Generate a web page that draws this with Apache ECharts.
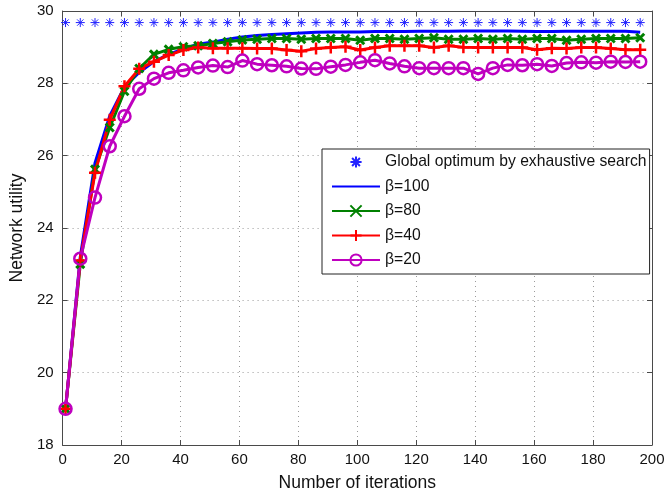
<!DOCTYPE html>
<html lang="en">
<head>
<meta charset="UTF-8">
<title>Network utility vs iterations</title>
<script src="https://cdn.jsdelivr.net/npm/echarts@6/dist/echarts.min.js"></script>
<style>
  html, body { margin: 0; padding: 0; background: #fff; }
  #chart { width: 668px; height: 497px; }
</style>
</head>
<body>
<div id="chart"></div>
<script>
// iterations where the curves are sampled
var iterations = [1, 6, 11, 16, 21, 26, 31, 36, 41, 46, 51, 56, 61, 66, 71, 76, 81, 86, 91, 96,
                  101, 106, 111, 116, 121, 126, 131, 136, 141, 146, 151, 156, 161, 166, 171, 176, 181, 186, 191, 196];

var globalOpt = 29.68;

var beta100 = [19.0, 23.2, 25.8, 27.1, 27.9, 28.3, 28.6, 28.8, 28.95, 29.08, 29.14, 29.22, 29.28, 29.32, 29.35, 29.37, 29.39, 29.41, 29.42, 29.42,
               29.42, 29.43, 29.43, 29.43, 29.44, 29.44, 29.44, 29.45, 29.45, 29.45, 29.45, 29.44, 29.43, 29.43, 29.44, 29.44, 29.44, 29.44, 29.44, 29.41];

var beta80 = [19.0, 23.0, 25.62, 26.78, 27.78, 28.41, 28.8, 28.94, 29.01, 29.04, 29.1, 29.15, 29.2, 29.22, 29.24, 29.24, 29.22, 29.24, 29.24, 29.24,
              29.19, 29.24, 29.24, 29.22, 29.24, 29.26, 29.22, 29.22, 29.24, 29.22, 29.24, 29.22, 29.24, 29.24, 29.19, 29.22, 29.24, 29.24, 29.24, 29.26];

var beta40 = [19.0, 23.1, 25.53, 26.99, 27.92, 28.4, 28.6, 28.78, 28.92, 28.99, 28.97, 28.97, 28.97, 28.96, 28.96, 28.92, 28.89, 28.96, 28.99, 29.01,
              28.92, 28.99, 29.04, 29.04, 29.04, 28.99, 29.04, 29.0, 28.99, 28.99, 28.99, 28.99, 28.93, 28.97, 28.96, 28.99, 28.99, 28.96, 28.93, 28.93];

var beta20 = [19.0, 23.15, 24.84, 26.26, 27.09, 27.85, 28.13, 28.29, 28.36, 28.44, 28.49, 28.45, 28.63, 28.53, 28.5, 28.47, 28.41, 28.4, 28.46, 28.51,
              28.58, 28.64, 28.55, 28.47, 28.42, 28.42, 28.42, 28.42, 28.26, 28.42, 28.51, 28.5, 28.53, 28.48, 28.56, 28.58, 28.57, 28.6, 28.59, 28.6];

var xTicks = { min: 0, max: 200, step: 20 };
var yTicks = { min: 18, max: 30, step: 2 };

function pairs(vals) {
  return iterations.map(function (x, i) { return [x, vals[i]]; });
}

var starPath = 'path://M5,0L5,10M0,5L10,5M1.5,1.5L8.5,8.5M8.5,1.5L1.5,8.5';
var plusPath = 'path://M5,0L5,10M0,5L10,5';
var crossPath = 'path://M0,0L10,10M10,0L0,10';

var font = 'Liberation Sans, Arial, sans-serif';
var axisGray = '#4a4a4a';

function baseXAxis(pos, showLabels) {
  return {
    type: 'value', position: pos,
    min: xTicks.min, max: xTicks.max, interval: xTicks.step,
    axisLine: { show: true, onZero: false, lineStyle: { color: axisGray, width: 1 } },
    axisTick: { show: true, inside: true, length: 5, lineStyle: { color: axisGray } },
    axisLabel: { show: showLabels, color: '#111', fontSize: 15, fontFamily: font, margin: 7 },
    splitLine: { show: showLabels, lineStyle: { color: '#9a9a9a', type: [1, 4], width: 1 } }
  };
}
function baseYAxis(pos, showLabels) {
  return {
    type: 'value', position: pos,
    min: yTicks.min, max: yTicks.max, interval: yTicks.step,
    axisLine: { show: true, onZero: false, lineStyle: { color: axisGray, width: 1 } },
    axisTick: { show: true, inside: true, length: 5, lineStyle: { color: axisGray } },
    axisLabel: { show: showLabels, color: '#111', fontSize: 15, fontFamily: font, margin: 9 },
    splitLine: { show: showLabels, lineStyle: { color: '#9a9a9a', type: [1, 4], width: 1 } }
  };
}

var xBottom = baseXAxis('bottom', true);
xBottom.name = 'Number of iterations';
xBottom.nameLocation = 'middle';
xBottom.nameGap = 29;
xBottom.nameTextStyle = { color: '#111', fontSize: 17.5, fontFamily: font };

var yLeft = baseYAxis('left', true);
yLeft.name = 'Network utility';
yLeft.nameLocation = 'middle';
yLeft.nameGap = 33;
yLeft.nameTextStyle = { color: '#111', fontSize: 17.5, fontFamily: font };

var option = {
  backgroundColor: '#fff',
  animation: false,
  grid: { left: 61, right: 16, top: 11, bottom: 50 },
  xAxis: [xBottom, baseXAxis('top', false)],
  yAxis: [yLeft, baseYAxis('right', false)],
  legend: {
    orient: 'vertical', left: 322, top: 149,
    backgroundColor: '#fff', borderColor: '#222', borderWidth: 1,
    padding: [5, 3, 6, 9],
    itemWidth: 48, itemHeight: 14, itemGap: 8.5,
    textStyle: { color: '#111', fontSize: 15.7, fontFamily: font },
    data: [
      { name: 'Global optimum by exhaustive search' },
      { name: 'β=100', itemStyle: { opacity: 0 } },
      { name: 'β=80' },
      { name: 'β=40' },
      { name: 'β=20' }
    ]
  },
  series: [
    {
      name: 'Global optimum by exhaustive search', type: 'line',
      data: iterations.map(function (x) { return [x, globalOpt]; }),
      symbol: starPath, symbolSize: 9,
      lineStyle: { width: 0, opacity: 0 },
      itemStyle: { color: '#2323ff', borderColor: '#2323ff', borderWidth: 1 }
    },
    {
      name: 'β=100', type: 'line', data: pairs(beta100),
      symbol: 'none', showSymbol: false,
      lineStyle: { color: '#0000ff', width: 3 },
      itemStyle: { color: '#0000ff' }
    },
    {
      name: 'β=80', type: 'line', data: pairs(beta80),
      symbol: crossPath, symbolSize: 8,
      lineStyle: { color: '#008000', width: 3 },
      itemStyle: { color: '#008000', borderColor: '#008000', borderWidth: 3 }
    },
    {
      name: 'β=40', type: 'line', data: pairs(beta40),
      symbol: plusPath, symbolSize: 12,
      lineStyle: { color: '#ff0000', width: 3 },
      itemStyle: { color: '#ff0000', borderColor: '#ff0000', borderWidth: 2.5 }
    },
    {
      name: 'β=20', type: 'line', data: pairs(beta20),
      symbol: 'circle', symbolSize: 12,
      lineStyle: { color: '#bf00bf', width: 3 },
      itemStyle: { color: 'rgba(255,255,255,0)', borderColor: '#bf00bf', borderWidth: 2.5 }
    }
  ]
};

var chart = echarts.init(document.getElementById('chart'));
chart.setOption(option);
</script>
</body>
</html>
